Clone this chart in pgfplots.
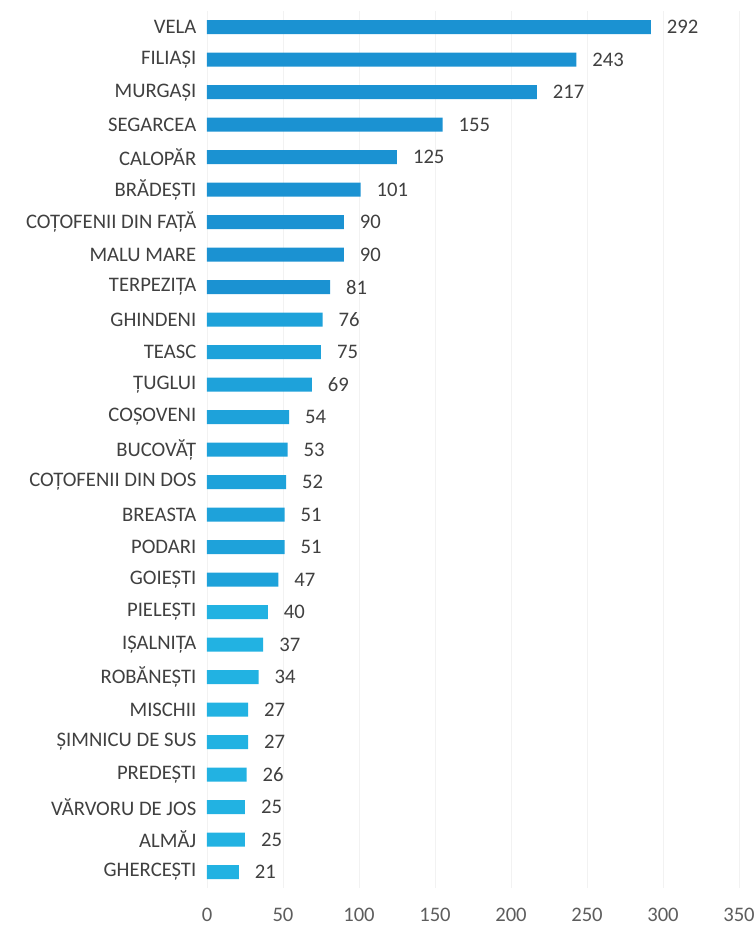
\documentclass[border=0pt]{standalone}
\usepackage{pgfplots}
\pgfplotsset{compat=1.18}
\usepackage{pgfplotstable}
\usepackage{fontspec}
\setmainfont{Carlito}
\definecolor{barA}{HTML}{1B92D2}
\definecolor{barB}{HTML}{1EA2DA}
\definecolor{barC}{HTML}{22B2E2}
\definecolor{txt}{HTML}{404040}
\pgfplotstableread{
idx val
0 292
1 243
2 217
3 155
4 125
5 101
6 90
7 90
8 81
}\dataA
\pgfplotstableread{
idx val
9 76
10 75
11 69
12 54
13 53
14 52
15 51
16 51
17 47
}\dataB
\pgfplotstableread{
idx val
18 40
19 37
20 34
21 27
22 27
23 26
24 25
25 25
26 21
}\dataC
\begin{document}
\begin{tikzpicture}
\useasboundingbox (-155.25pt,-28.3pt) rectangle (411.75pt,666.2pt);
\begin{axis}[
  at={(0,0)}, anchor=south west,
  scale only axis,
  width=399pt, height=658pt,
  xmin=0, xmax=350, ymin=-0.5, ymax=26.5,
  y dir=reverse,
  xbar, bar width=10.5pt, bar shift=0pt,
  axis line style={draw=none},
  major tick length=0pt,
  xtick={0,50,...,350},
  ytick={0,...,26},
  yticklabels={VELA,FILIAȘI,MURGAȘI,SEGARCEA,CALOPĂR,BRĂDEȘTI,COȚOFENII DIN FAȚĂ,MALU MARE,TERPEZIȚA,GHINDENI,TEASC,ȚUGLUI,COȘOVENI,BUCOVĂȚ,COȚOFENII DIN DOS,BREASTA,PODARI,GOIEȘTI,PIELEȘTI,IȘALNIȚA,ROBĂNEȘTI,MISCHII,ȘIMNICU DE SUS,PREDEȘTI,VĂRVORU DE JOS,ALMĂJ,GHERCEȘTI},
  xmajorgrids, grid style={draw=gray!10, line width=0.5pt},
  /pgf/number format/assume math mode=true,
  tick label style={font=\fontsize{15.5}{18}\selectfont, text=txt},
  yticklabel style={xshift=-4.5pt},
  xticklabel style={yshift=-11pt, text=txt!85},
  nodes near coords,
  nodes near coords align={horizontal},
  every node near coord/.append style={font=\fontsize{15.5}{18}\selectfont, text=txt, xshift=8.5pt},
]
\addplot[draw=none, fill=barA] table[x=val, y=idx] {\dataA};
\addplot[draw=none, fill=barB] table[x=val, y=idx] {\dataB};
\addplot[draw=none, fill=barC] table[x=val, y=idx] {\dataC};
\end{axis}
\end{tikzpicture}
\end{document}
